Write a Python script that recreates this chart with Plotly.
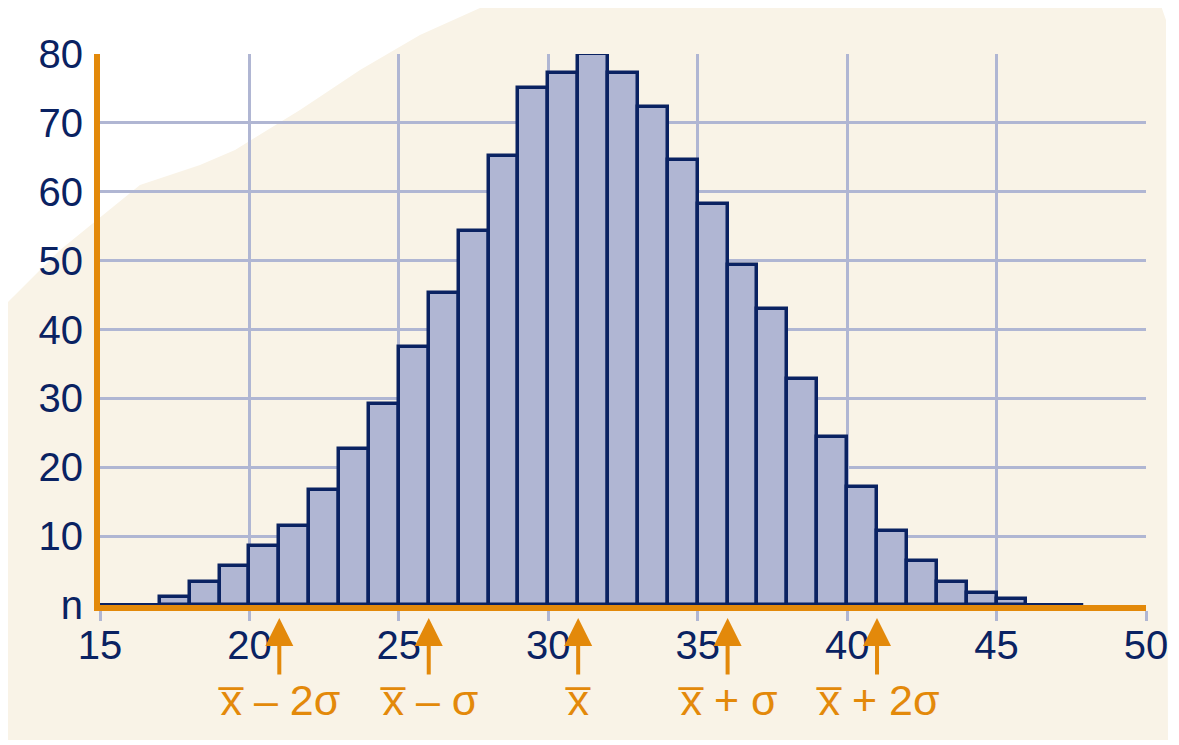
import plotly.graph_objects as go

# ---- data ----
bin_left = list(range(17, 46))
counts = [1.1, 3.4, 5.6, 8.6, 11.5, 16.7, 22.6, 29.2, 37.4, 45.3, 54.3, 65.2, 75.0,
          77.3, 80.0, 77.3, 72.3, 64.6, 58.2, 49.3, 43.0, 32.8, 24.4, 17.1, 10.8,
          6.4, 3.4, 1.8, 0.9]
baseline_x = [14.9, 47.9]
baseline_y = [0, 0]
x_ticks = [15, 20, 25, 30, 35, 40, 45, 50]
y_ticks = [0, 10, 20, 30, 40, 50, 60, 70, 80]
y_ticktext = ["n", "10", "20", "30", "40", "50", "60", "70", "80"]
marker_x = [21, 26, 31, 36, 41]
XB = "x\u0305"
marker_labels = [XB + " \u2013 2\u03c3", XB + " \u2013 \u03c3", XB, XB + " + \u03c3", XB + " + 2\u03c3"]

NAVY = "#0A2262"
GRID = "#B0B6D3"
FILL = "#B0B6D3"
ORANGE = "#E3890A"
CREAM = "#F9F3E7"
FONT = "Liberation Sans, Arial, sans-serif"

# page offset (default body margin of the html page)
OFF = 8
W, H = 1179 - OFF, 745 - OFF

fig = go.Figure()
fig.add_trace(go.Bar(
    x=[b + 0.5 for b in bin_left], y=counts, width=1,
    marker=dict(color=FILL, line=dict(color=NAVY, width=3.5)),
    hoverinfo="skip",
))
fig.add_trace(go.Scatter(
    x=baseline_x, y=baseline_y, mode="lines",
    line=dict(color=NAVY, width=4), hoverinfo="skip", cliponaxis=False,
))

# plot area in page pixels
L, R, T, B = 100, 1146, 54, 605
def px(x):
    return (x - L) / (R - L)
def py(y):
    return (B - y) / (B - T)
pts = [(0, 745), (0, 310), (60, 250), (140, 185), (200, 165), (235, 150), (300, 110),
       (360, 70), (420, 35), (480, 8), (1160, 3), (1166, 20), (1168, 740), (0, 740)]
path = "M " + " L ".join(f"{px(a):.4f},{py(b):.4f}" for a, b in pts) + " Z"
shapes = [dict(type="path", path=path, xref="paper", yref="paper",
               fillcolor=CREAM, line=dict(width=0), layer="below")]

annotations = []
for xv, lab in zip(marker_x, marker_labels):
    annotations.append(dict(
        x=xv, y=py(618), xref="x", yref="paper", text=lab, showarrow=True,
        ax=0, ay=82, arrowhead=2, arrowsize=1.4, arrowwidth=4, arrowcolor=ORANGE,
        font=dict(size=43, color=ORANGE, family=FONT),
    ))

fig.update_layout(
    width=W, height=H,
    margin=dict(l=L - OFF, r=1179 - R, t=T - OFF, b=745 - B),
    paper_bgcolor="white", plot_bgcolor="rgba(0,0,0,0)",
    showlegend=False, bargap=0,
    shapes=shapes, annotations=annotations,
    font=dict(family=FONT, color=NAVY),
    xaxis=dict(range=[15, 50], tickvals=x_ticks, showgrid=True, gridcolor=GRID, gridwidth=3,
               ticks="outside", ticklen=10, tickwidth=3, tickcolor=GRID,
               ticklabelstandoff=-10,
               tickfont=dict(size=40, color=NAVY, family=FONT),
               showline=True, linecolor=ORANGE, linewidth=6, zeroline=False,
               layer="below traces", fixedrange=True),
    yaxis=dict(range=[0, 80], tickvals=y_ticks, ticktext=y_ticktext, showgrid=True,
               gridcolor=GRID, gridwidth=3, ticks="", ticklabelstandoff=3,
               tickfont=dict(size=40, color=NAVY, family=FONT),
               showline=True, linecolor=ORANGE, linewidth=6, zeroline=False,
               layer="below traces", fixedrange=True),
)

fig.write_html("out.html")
